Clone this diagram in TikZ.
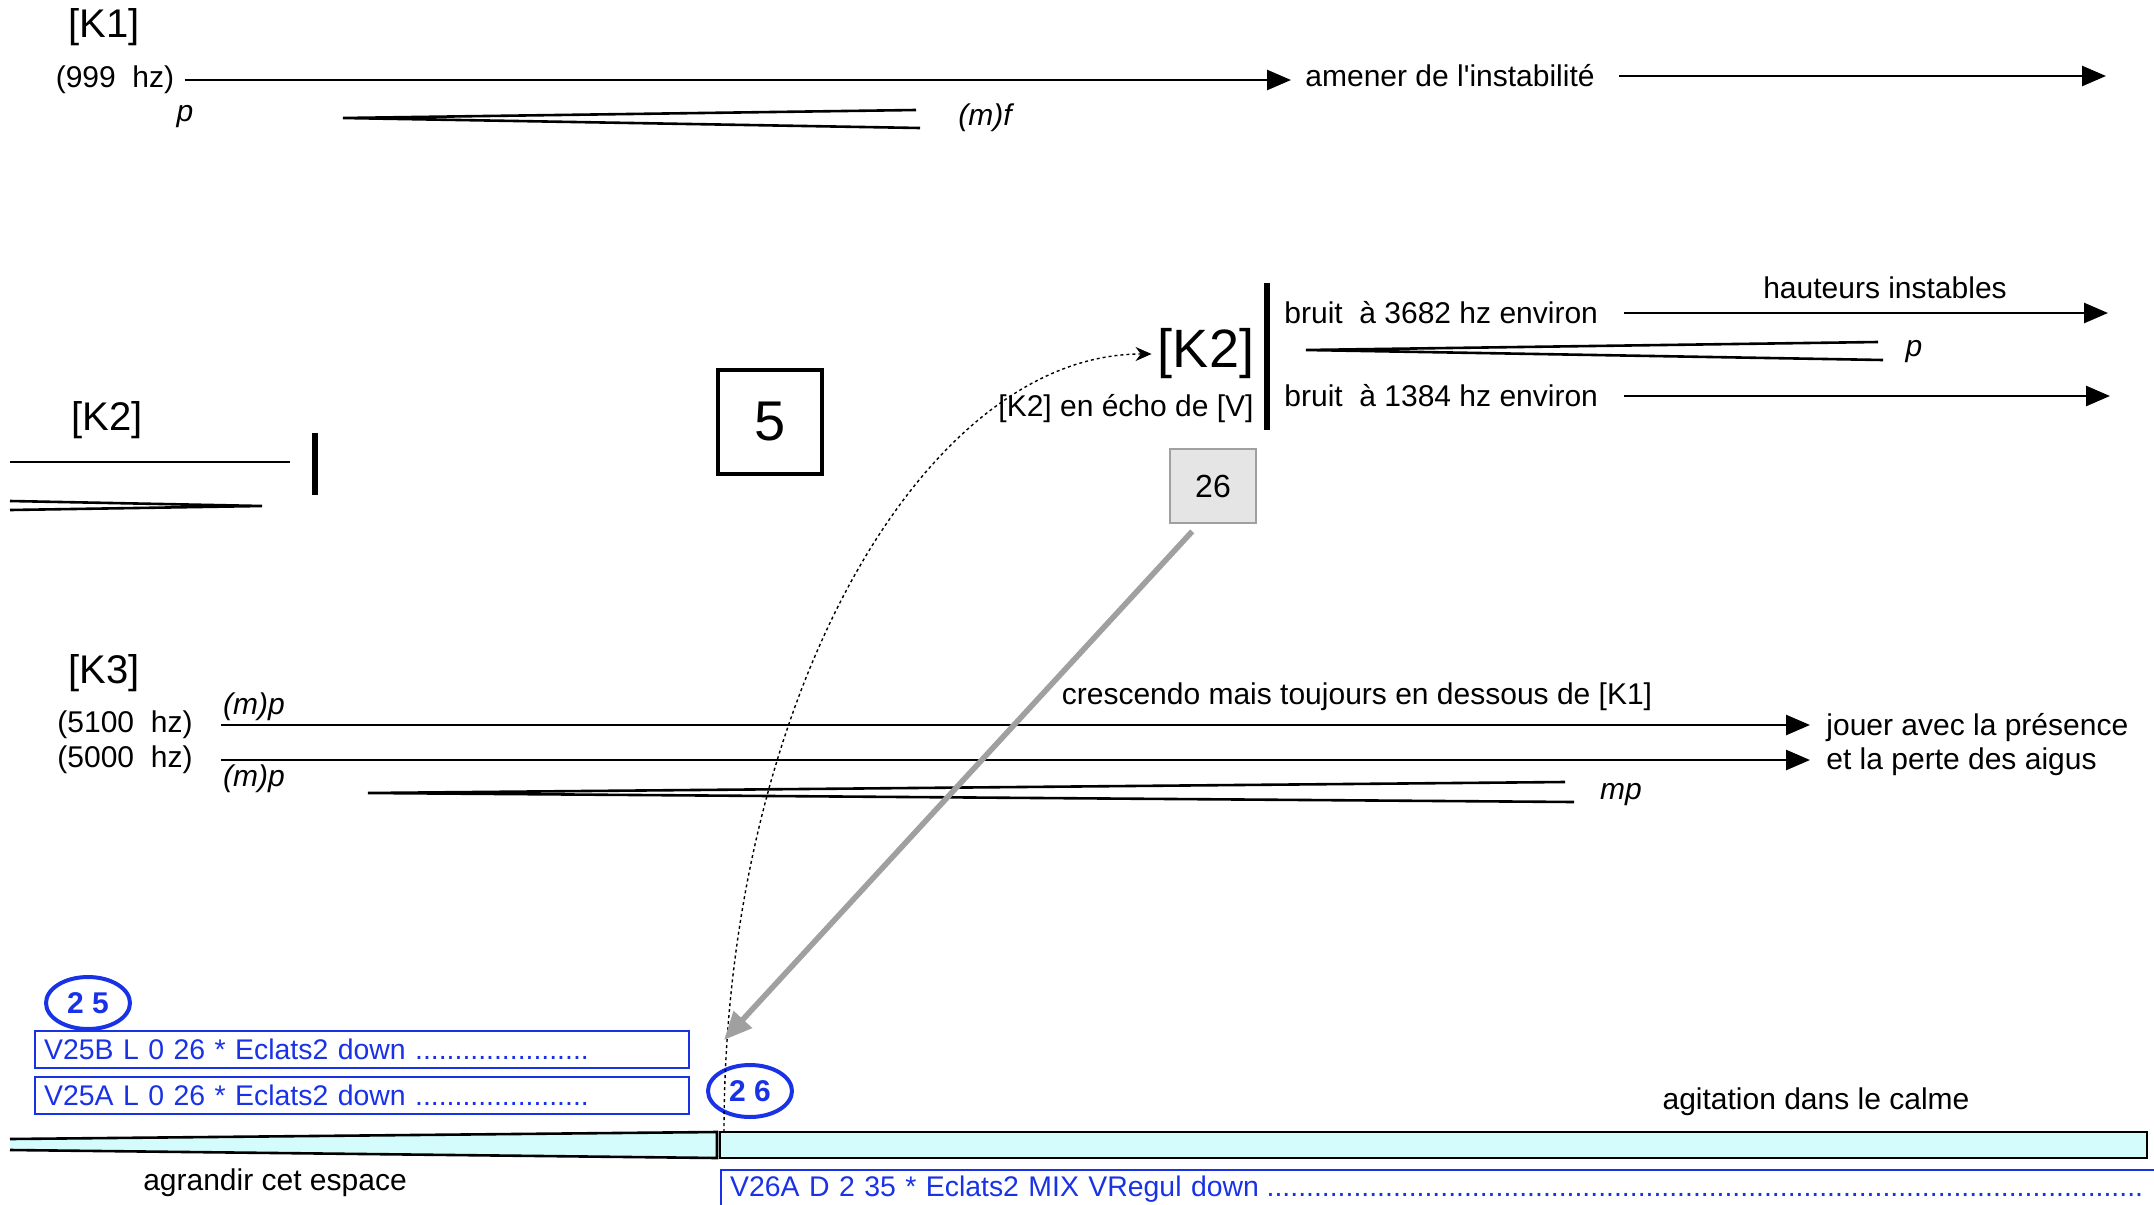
\documentclass[tikz,border=0pt]{standalone}
\usepackage{fontspec}
\setmainfont{Liberation Sans}
\usetikzlibrary{arrows.meta,positioning,shapes.geometric}
\definecolor{partblue}{RGB}{25,50,230}
\definecolor{bandcyan}{RGB}{212,252,252}
\definecolor{cuegray}{RGB}{160,160,160}
\definecolor{cuefill}{RGB}{229,229,229}

\begin{document}
\begin{tikzpicture}[x=0.5pt, y=-0.5pt,
    textnode/.style={font=\fontsize{15}{17}\selectfont, inner sep=0pt},
    dynnode/.style={font=\fontsize{15}{17}\selectfont\itshape, inner sep=0pt},
    voicenode/.style={font=\fontsize{20}{22}\selectfont, inner sep=0pt},
    thickline/.style={line width=1.3pt},
    arrowline/.style={line width=1.3pt, -{Triangle[length=12pt,width=10pt]}},
    barline/.style={line width=3.3pt},
    cuebox/.style={draw=partblue, line width=1.2pt, text=partblue, font=\fontsize{14.2}{17}\selectfont, anchor=north west, inner xsep=4.5pt, inner ysep=0pt, minimum height=18.5pt, text width=318pt, align=left},
    markcircle/.style={ellipse, draw=partblue, line width=2pt, text=partblue, font=\fontsize{15}{17}\selectfont\bfseries, minimum width=42pt, minimum height=26pt, inner sep=0pt}]
    \useasboundingbox (0,0) rectangle (2154,1205);
    \clip (0,0) rectangle (2154,1205);

    % K1
    \node[voicenode] (k1) at (104,27) {[K1]};
    \node[textnode] (hz999) at (115,80) {(999\ \ hz)};
    \node[textnode, anchor=west] (amener) at (1305,76) {amener de l\textquotesingle instabilité};
    \coordinate (k1end) at (2106,74);
    \draw[arrowline, shorten >=7pt] ([xshift=5pt]hz999.east) -- (hz999.east -| amener.west);
    \draw[arrowline] ([xshift=12pt]amener.east) -- (amener.east -| k1end);
    \node[dynnode] (p1) at (185,117) {p};
    \node[dynnode] (mf1) at (985,118) {(m)f};
    \draw[thickline] (916,110) -- (343,118) -- (920,128);

    % K2 (gauche)
    \node[voicenode] (k2a) at (107,420) {[K2]};
    \draw[thickline] (10,462) -- (290,462);
    \draw[thickline] (10,501) -- (262,506) -- (10,510);
    \draw[barline] (315,433) -- (315,495);

    % repere 5
    \node[draw, line width=2pt, minimum width=52pt, minimum height=52pt, font=\fontsize{28}{30}\selectfont] (sec5) at (770,422) {5};

    % K2 (droite)
    \node[font=\fontsize{27}{29}\selectfont, inner sep=0pt] (k2b) at (1206,354) {[K2]};
    \node[textnode] (echo) at (1126,409) {[K2] en écho de [V]};
    \draw[barline] (1267,283) -- (1267,430);
    \node[textnode, anchor=west] (bruitA) at (1284,313) {bruit\ \ à 3682 hz environ};
    \node[textnode, anchor=west] (bruitB) at (1284,396) {bruit\ \ à 1384 hz environ};
    \node[textnode] (haut) at (1885,288) {hauteurs instables};
    \coordinate (bruitAend) at (2108,312);
    \coordinate (bruitBend) at (2110,400);
    \draw[arrowline] ([xshift=13pt]bruitA.east) -- (bruitA.east -| bruitAend);
    \draw[arrowline] ([xshift=13pt]bruitB.east) -- (bruitB.east -| bruitBend);
    \draw[thickline] (1878,342) -- (1306,350) -- (1883,360);
    \node[dynnode] (p2) at (1914,352) {p};
    \node[draw=cuegray, fill=cuefill, line width=1pt, minimum width=43pt, minimum height=37pt, font=\fontsize{16}{18}\selectfont] (cue26) at (1213,486) {26};

    % K3
    \node[voicenode] (k3) at (104,673) {[K3]};
    \node[textnode] (hz5100) at (125,725) {(5100\ \ hz)};
    \node[textnode] (hz5000) at (125,760) {(5000\ \ hz)};
    \node[dynnode] (mp1) at (254,707) {(m)p};
    \node[dynnode] (mp2) at (254,779) {(m)p};
    \node[textnode] (cresc) at (1357,697) {crescendo mais toujours en dessous de [K1]};
    \node[textnode, anchor=west] (jouer) at (1826,728) {jouer avec la présence};
    \node[textnode, anchor=west] (perte) at (1826,762) {et la perte des aigus};
    \coordinate (k3a) at (221,725);
    \coordinate (k3b) at (221,760);
    \draw[arrowline, shorten >=8pt] (k3a) -- (k3a -| jouer.west);
    \draw[arrowline, shorten >=8pt] (k3b) -- (k3b -| perte.west);
    \draw[thickline] (1565,782) -- (368,793) -- (1574,802);
    \node[dynnode] (mp3) at (1621,795) {mp};

    % Partie electronique
    \node[markcircle] (c25) at (88,1003) {2 5};
    \node[cuebox] (v25b) at (34,1030) {V25B L 0 26 * Eclats2 down ......................};
    \node[cuebox] (v25a) at (34,1076) {V25A L 0 26 * Eclats2 down ......................};
    \node[markcircle] (c26) at (750,1091) {2 6};
    \node[textnode] (agit) at (1816,1102) {agitation dans le calme};
    \fill[bandcyan] (10,1139) -- (717,1132) -- (717,1158) -- (10,1150) -- cycle;
    \draw[thickline] (10,1139) -- (717,1132) -- (717,1158) -- (10,1150);
    \draw[thickline, fill=bandcyan] (720,1132) rectangle (2147,1158);
    \node[textnode] (agrandir) at (275,1183) {agrandir cet espace};
    \node[cuebox, text width=780pt] (v26a) at (720,1169) {V26A D 2 35 * Eclats2 MIX VRegul down\leaders\hbox{.}\hskip 0pt plus 1fill\kern 72pt};

    % Fleches
    \coordinate (bandmid) at (724,1132);
    \coordinate (cuetip) at (724,1040);
    \draw[line width=0.7pt, dash pattern=on 1.5pt off 1.5pt, -{Stealth[length=8pt,width=7pt]}, shorten >=3pt] (bandmid) .. controls +(0,-430) and +(-234,0) .. (k2b.west);
    \draw[cuegray, line width=2.8pt, -{Triangle[length=14pt,width=12pt]}, shorten <=5pt] ([xshift=-7pt]cue26.south) -- (cuetip);
\end{tikzpicture}
\end{document}
